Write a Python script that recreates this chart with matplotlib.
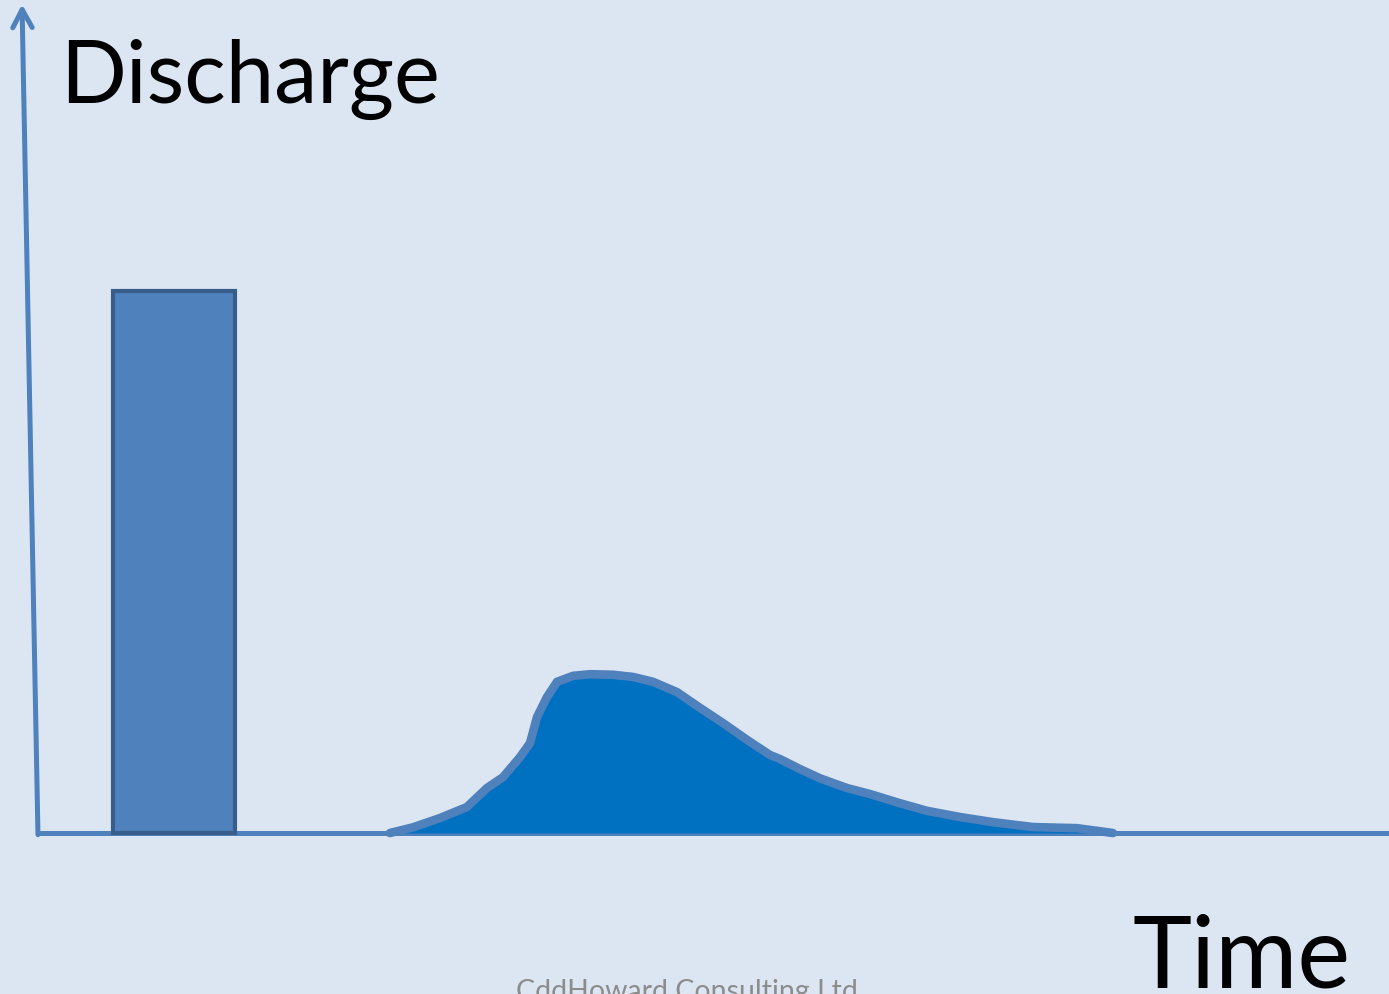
import matplotlib.pyplot as plt

# unit hydrograph sketch: rainfall pulse and resulting discharge
rain_start = 5.55
rain_end = 14.58
rain_depth = 100.0

time = [26.05, 27.76, 29.76, 31.75, 33.23, 34.42, 35.68, 36.42, 36.94, 37.68,
        38.42, 39.60, 40.86, 42.56, 44.04, 45.52, 47.30, 49.00, 50.70, 52.48,
        54.18, 54.92, 56.40, 57.88, 59.88, 61.58, 63.80, 65.80, 68.25, 70.69,
        73.65, 76.91, 79.57]
discharge = [0.0, 1.05, 2.77, 4.8, 8.3, 10.3, 14.0, 16.6, 21.4, 25.1,
             27.9, 29.0, 29.3, 29.2, 28.8, 27.9, 26.0, 23.1, 20.3, 17.2,
             14.4, 13.65, 11.8, 10.1, 8.3, 7.2, 5.5, 4.1, 2.95, 2.0,
             1.1, 0.9, 0.0]

bg = "#dce6f2"
line_blue = "#4f81bd"

fig = plt.figure(figsize=(13.89, 9.94), dpi=100, facecolor=bg)
ax = fig.add_axes([0, 0, 1, 1])
ax.set_facecolor(bg)
ax.set_xlim(-2.81, 100.0)
ax.set_ylim(-29.7, 153.7)
ax.axis("off")

# axes drawn by hand, y axis leans slightly
ax.plot([0, 100], [0, 0], color=line_blue, lw=3.6, solid_capstyle="butt", zorder=2)
ax.annotate("", xy=(-1.18, 152.9), xytext=(0, -0.3),
            arrowprops=dict(arrowstyle="->,head_length=1.3,head_width=0.7",
                            color=line_blue, lw=3.6, shrinkA=0, shrinkB=0),
            zorder=2)

ax.bar(rain_start, rain_depth, width=rain_end - rain_start, align="edge",
       color="#4f81bd", edgecolor="#385d8a", linewidth=3.0, zorder=3)

ax.fill_between(time, discharge, 0, color="#0070c0", lw=0, zorder=3)
ax.plot(time, discharge, color=line_blue, lw=6.2, solid_joinstyle="round",
        solid_capstyle="round", zorder=4)

fig.text(60 / 1389, 1 - 103 / 994, "Discharge", fontsize=62.5, family="Lato",
         color="black", va="baseline", ha="left")
fig.text(1133 / 1389, 1 - 988 / 994, "Time", fontsize=72, family="Lato",
         color="black", va="baseline", ha="left")
fig.text(687 / 1389, 1 - 1000 / 994, "CddHoward Consulting Ltd", fontsize=20.5,
         family="Lato", color="#8c8c8c", va="baseline", ha="center")

fig.savefig("out.png", dpi=100, facecolor=bg)
